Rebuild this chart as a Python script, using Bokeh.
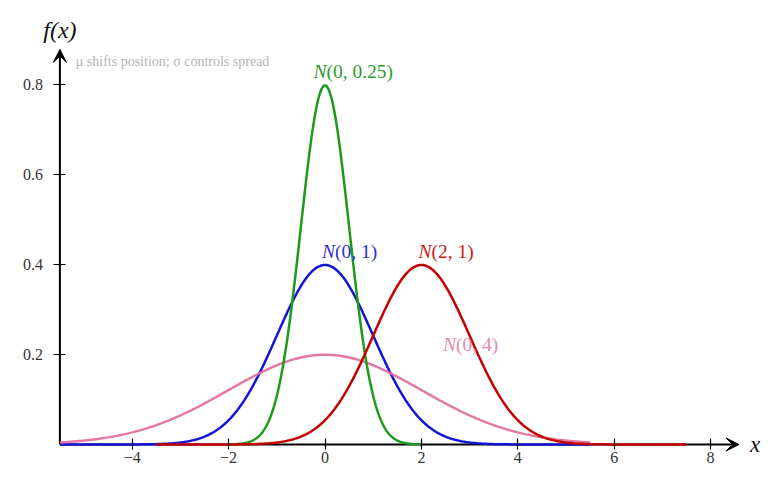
import numpy as np
from bokeh.plotting import figure
from bokeh.models import Range1d, LinearAxis, FixedTicker, Arrow, VeeHead
from bokeh.core.properties import value
from bokeh.embed import file_html
from bokeh.resources import INLINE

# ---- data (parameters) ----
curve_names = ["N(0, 1)", "N(0, 4)", "N(0, 0.25)", "N(2, 1)"]
curve_means = [0.0, 0.0, 0.0, 2.0]
curve_variances = [1.0, 4.0, 0.25, 1.0]
curve_x_from = [-5.5, -5.5, -2.0, -3.5]
curve_x_to = [5.5, 5.5, 2.0, 7.5]
curve_colors = ["#1414d4", "#e0699a", "#1b9a1b", "#c20000"]
curve_alphas = [1.0, 0.9, 1.0, 1.0]

label_parts = ["(0, 1)", "(0, 4)", "(0, 0.25)", "(2, 1)"]
label_x = [0.21, 2.72, 0.03, 2.21]
label_y = [0.43, 0.222, 0.83, 0.43]
label_colors = ["#3030c8", "#e489b0", "#2c9c2c", "#c42020"]

x_ticks = [-4, -2, 0, 2, 4, 6, 8]
x_tick_labels = ["\u22124", "\u22122", "0", "2", "4", "6", "8"]
y_ticks = [0.2, 0.4, 0.6, 0.8]
y_tick_labels = ["0.2", "0.4", "0.6", "0.8"]

axis_x_min, axis_x_max = -5.5, 8.59
axis_y_min, axis_y_max = 0.0, 0.878

note_text = "\u03bc shifts position;  \u03c3 controls spread"
serif = "Liberation Serif"

p = figure(width=764, height=468, output_backend="svg", toolbar_location=None,
           x_range=Range1d(-6.7324, 9.1183), y_range=Range1d(-0.05333, 0.98667),
           x_axis_location=None, y_axis_location=None, min_border=0)
p.outline_line_color = None
p.xgrid.visible = False
p.ygrid.visible = False
p.background_fill_color = "white"

# axis arrows (under the curves)
p.add_layout(Arrow(x_start=axis_x_min, y_start=0, x_end=axis_x_max, y_end=0,
                   line_width=2, line_color="black", level="underlay",
                   end=VeeHead(size=13, fill_color="black", line_color="black")))
p.add_layout(Arrow(x_start=axis_x_min, y_start=0, x_end=axis_x_min, y_end=axis_y_max,
                   line_width=2, line_color="black", level="underlay",
                   end=VeeHead(size=13, fill_color="black", line_color="black")))

xaxis = LinearAxis(fixed_location=0, ticker=FixedTicker(ticks=x_ticks),
                   major_label_overrides={t: l for t, l in zip(x_ticks, x_tick_labels)},
                   axis_line_color=None, major_tick_in=6, major_tick_out=5,
                   major_tick_line_width=1.2, minor_tick_line_color=None,
                   major_label_text_font=serif, major_label_text_font_size="16px",
                   major_label_text_color="#333333", major_label_standoff=2)
p.add_layout(xaxis, "below")
yaxis = LinearAxis(fixed_location=axis_x_min, ticker=FixedTicker(ticks=y_ticks),
                   major_label_overrides={t: l for t, l in zip(y_ticks, y_tick_labels)},
                   axis_line_color=None, major_tick_in=6, major_tick_out=6,
                   major_tick_line_width=1.2, minor_tick_line_color=None,
                   major_label_text_font=serif, major_label_text_font_size="16px",
                   major_label_text_color="#333333", major_label_standoff=11)
p.add_layout(yaxis, "left")

# curves: normal densities for the parameters above
for mu, var, a, b, c, al in zip(curve_means, curve_variances, curve_x_from,
                                curve_x_to, curve_colors, curve_alphas):
    xs = np.linspace(a, b, 500)
    sd = np.sqrt(var)
    ys = np.exp(-0.5 * ((xs - mu) / sd) ** 2) / (sd * np.sqrt(2 * np.pi))
    p.line(xs, ys, line_color=c, line_width=2.5, line_alpha=al)

# curve labels: italic N + upright parameters
for part, lx, ly, lc in zip(label_parts, label_x, label_y, label_colors):
    p.text(x=[lx], y=[ly], text=["N"], text_font=value(serif), text_font_style="italic",
           text_font_size="19.5px", text_color=lc, text_align="right", text_baseline="middle")
    p.text(x=[lx], y=[ly], text=[part], text_font=value(serif),
           text_font_size="19.5px", text_color=lc, text_align="left", text_baseline="middle")

# axis titles
p.text(x=[axis_x_min], y=[0.9206], text=["f(x)"], text_font=value(serif),
       text_font_style="italic", text_font_size="24px", text_color="#111111",
       text_align="center", text_baseline="middle")
p.text(x=[axis_x_max + 0.23], y=[0.0], text=["x"], text_font=value(serif),
       text_font_style="italic", text_font_size="23px", text_color="#111111",
       text_align="left", text_baseline="middle")

# note
p.text(x=[-5.17], y=[0.851], text=[note_text], text_font=value(serif),
       text_font_size="14px", text_color="#b4b4b4", text_align="left",
       text_baseline="middle")

open("out.html", "w").write(file_html(p, INLINE))
